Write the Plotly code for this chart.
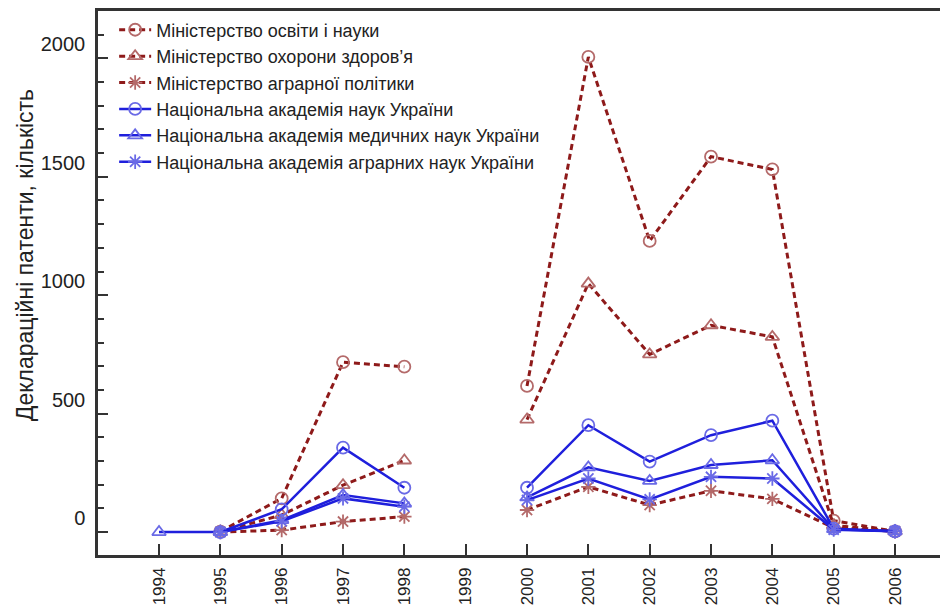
import plotly.graph_objects as go

years = [1994, 1995, 1996, 1997, 1998, 1999, 2000, 2001, 2002, 2003, 2004, 2005, 2006]

mon = [None, 2, 142, 717, 698, None, 617, 2006, 1229, 1585, 1531, 48, 3]
moz = [None, 1, 72, 198, 302, None, 475, 1049, 750, 873, 824, 28, 3]
mapp = [None, 0, 8, 44, 65, None, 93, 191, 114, 174, 140, 18, 3]
nan_ua = [None, 0, 96, 356, 187, None, 187, 451, 297, 409, 470, 14, 3]
namn = [0, 0, 50, 156, 121, None, 146, 273, 216, 283, 303, 12, 3]
naan = [None, 0, 45, 142, 107, None, 135, 226, 138, 233, 226, 10, 3]

names = [
    "Міністерство освіти і науки",
    "Міністерство охорони здоров’я",
    "Міністерство аграрної політики",
    "Національна академія наук України",
    "Національна академія медичних наук України",
    "Національна академія аграрних наук України",
]
y_title = "Деклараційні патенти, кількість"

RED = "#8e1a1a"
RED_M = "#b46a6a"
BLUE = "#1f1fdc"
BLUE_M = "#6a6ae6"

series = [
    (mon, names[0], "red", "circle-open"),
    (moz, names[1], "red", "triangle-up-open"),
    (mapp, names[2], "red", "asterisk-open"),
    (nan_ua, names[3], "blue", "circle-open"),
    (namn, names[4], "blue", "triangle-up-open"),
    (naan, names[5], "blue", "asterisk-open"),
]

fig = go.Figure()
for vals, name, col, sym in series:
    if col == "red":
        line = dict(color=RED, width=3, dash="6px,4px")
        mc = RED_M
    else:
        line = dict(color=BLUE, width=2.5)
        mc = BLUE_M
    fig.add_trace(go.Scatter(
        x=years, y=vals, name=name, mode="lines+markers",
        line=line,
        marker=dict(symbol=sym, size=12, color=mc, line=dict(color=mc, width=1.8)),
        connectgaps=False,
    ))

font_fam = "Liberation Sans, Arial, sans-serif"

# page body has an 8px margin: figure is placed at (8, 8)
fig.update_layout(
    width=940, height=599,
    margin=dict(l=90, r=0, t=3, b=52),
    paper_bgcolor="white", plot_bgcolor="white",
    font=dict(family=font_fam, color="#222"),
    showlegend=True,
    legend=dict(
        x=0.019, y=0.999, xanchor="left", yanchor="top",
        bgcolor="rgba(0,0,0,0)", borderwidth=0,
        font=dict(size=18, family=font_fam, color="#222"),
        itemwidth=32, tracegroupgap=0,
    ),
    xaxis=dict(
        range=[1993.005, 2006.864],
        tickmode="array", tickvals=years, ticktext=[str(y) for y in years],
        tickangle=-90,
        ticks="inside", ticklen=11, tickwidth=2, tickcolor="#333",
        showline=True, linecolor="#333", linewidth=2.5, mirror=True,
        showgrid=False, zeroline=False,
        tickfont=dict(size=17, family=font_fam, color="#222"),
        ticklabelstandoff=3,
    ),
    yaxis=dict(
        range=[-97, 2200],
        tick0=0, dtick=500,
        ticks="inside", ticklen=10, tickwidth=2, tickcolor="#333",
        minor=dict(dtick=100, ticks="inside", ticklen=6, tickwidth=2, tickcolor="#333", showgrid=False),
        showline=True, linecolor="#333", linewidth=2.5, mirror=False,
        showgrid=False, zeroline=False,
        tickfont=dict(size=20, family=font_fam, color="#222"),
        ticklabelshift=-14, ticklabelstandoff=6,
    ),
    annotations=[dict(
        text=y_title, textangle=-90, showarrow=False,
        xref="paper", yref="paper", x=-0.086, y=0.551,
        xanchor="center", yanchor="middle",
        font=dict(size=23, family=font_fam, color="#222"),
    )],
)

fig.write_html("out.html")
